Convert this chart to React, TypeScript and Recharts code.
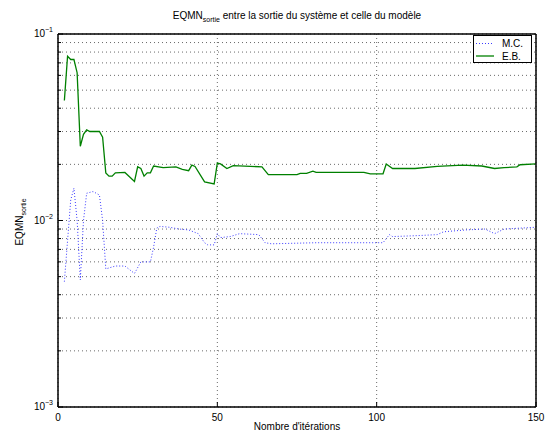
import { CartesianGrid, Legend, Line, LineChart, XAxis, YAxis } from "recharts"

// iterations and EQMN values
const mcIter = [2, 4, 5, 6, 7, 8, 9, 11, 13, 14, 15, 18, 21, 24, 26, 29, 30, 31, 32, 35, 38, 41, 44, 46, 47, 49, 50, 51, 54, 57, 63, 65, 67, 81, 102, 104, 105, 113, 119, 121, 128, 134, 137, 140, 150]
const mcVal = [0.0047, 0.0129, 0.0149, 0.01, 0.0048, 0.01, 0.014, 0.0143, 0.0137, 0.01, 0.0055, 0.0057, 0.0057, 0.0052, 0.006, 0.006, 0.0072, 0.0091, 0.0093, 0.0092, 0.009, 0.0089, 0.0085, 0.0076, 0.0074, 0.0074, 0.0085, 0.0081, 0.0082, 0.0085, 0.0084, 0.0076, 0.0075, 0.0076, 0.0076, 0.0084, 0.0082, 0.0083, 0.0084, 0.0087, 0.0089, 0.009, 0.0085, 0.009, 0.0092]

const ebIter = [2, 3, 4, 5, 6, 7, 8, 9, 10, 13, 14, 15, 16, 17, 18, 21, 24, 25, 26, 27, 28, 29, 30, 33, 37, 39, 41, 42, 43, 46, 49, 50, 51, 53, 55, 64, 66, 75, 76, 78, 80, 81, 96, 98, 102, 103, 105, 112, 119, 127, 133, 137, 140, 144, 145, 150]
const ebVal = [0.044, 0.076, 0.073, 0.073, 0.062, 0.025, 0.029, 0.0306, 0.03, 0.03, 0.028, 0.018, 0.0173, 0.0173, 0.018, 0.0181, 0.0162, 0.0194, 0.019, 0.0173, 0.018, 0.018, 0.0196, 0.0192, 0.0194, 0.0188, 0.0185, 0.0198, 0.0195, 0.0161, 0.0157, 0.0203, 0.0201, 0.019, 0.0197, 0.0194, 0.0176, 0.0176, 0.0179, 0.0179, 0.0184, 0.0181, 0.0181, 0.0178, 0.0178, 0.0201, 0.019, 0.019, 0.0195, 0.0198, 0.0196, 0.019, 0.0192, 0.0194, 0.0199, 0.0201]

const legendOrder = ["M.C.", "E.B."]
const xTicks = [0, 50, 100, 150]
const yTicks = [
  0.001, 0.002, 0.003, 0.004, 0.005, 0.006, 0.007, 0.008, 0.009,
  0.01, 0.02, 0.03, 0.04, 0.05, 0.06, 0.07, 0.08, 0.09, 0.1,
]

const mcData = mcIter.map((it, i) => ({ it, v: mcVal[i] }))
const ebData = ebIter.map((it, i) => ({ it, v: ebVal[i] }))

const font = '"Liberation Sans", Arial, Helvetica, sans-serif'
const mcColor = "#3b3bff"
const ebColor = "#008000"

const isMajor = (v: number) => Math.abs(Math.log10(v) - Math.round(Math.log10(v))) < 1e-6

function LeftTick(props: any) {
  const { x, y, payload } = props
  const v = payload.value
  const major = isMajor(v)
  return (
    <g>
      <line x1={x} x2={x + (major ? 5 : 3)} y1={y} y2={y} stroke="#000" />
      {major && (
        <text x={x - 5} y={y + 3} textAnchor="end" fontSize={10} fontFamily={font} fill="#000">
          10
          <tspan dy={-5} fontSize={7}>
            {"\u2212" + -Math.round(Math.log10(v))}
          </tspan>
        </text>
      )}
    </g>
  )
}

function RightTick(props: any) {
  const { x, y, payload } = props
  const major = isMajor(payload.value)
  return <line x1={x} x2={x - (major ? 5 : 3)} y1={y} y2={y} stroke="#000" />
}

function BottomTick(props: any) {
  const { x, y, payload } = props
  return (
    <g>
      <line x1={x} x2={x} y1={y} y2={y - 5} stroke="#000" />
      <text x={x} y={y + 14} textAnchor="middle" fontSize={10} fontFamily={font} fill="#000">
        {payload.value}
      </text>
    </g>
  )
}

function TopTick(props: any) {
  const { x, y } = props
  return <line x1={x} x2={x} y1={y} y2={y + 5} stroke="#000" />
}

function LegendBox(props: any) {
  const items = [...(props.payload || [])].sort(
    (a: any, b: any) => legendOrder.indexOf(a.value) - legendOrder.indexOf(b.value)
  )
  return (
    <svg width={59} height={28} style={{ display: "block" }}>
      <rect x={0.5} y={0.5} width={58} height={27} fill="#fff" stroke="#000" />
      {items.map((e: any, i: number) => {
        const cy = 8.5 + i * 12.5
        return (
          <g key={e.value}>
            <line
              x1={3}
              x2={21}
              y1={cy}
              y2={cy}
              stroke={e.color}
              strokeWidth={e.value === "M.C." ? 1 : 1.3}
              strokeDasharray={e.value === "M.C." ? "1 2" : undefined}
            />
            <text x={29} y={cy + 3.5} fontSize={10} fontFamily={font} fill="#000">
              {e.value}
            </text>
          </g>
        )
      })}
    </svg>
  )
}

export default function App() {
  return (
    <div style={{ position: "absolute", left: 0, top: 0, width: 555, height: 438, background: "#fff" }}>
      <LineChart width={555} height={438} margin={{ top: 0, right: 0, bottom: 0, left: 0 }}>
        <CartesianGrid stroke="#444" strokeDasharray="1 3" strokeWidth={0.8} />
        <XAxis
          dataKey="it"
          type="number"
          domain={[0, 150]}
          ticks={xTicks}
          allowDataOverflow
          height={31}
          tickSize={0}
          tickMargin={0}
          tickLine={false}
          axisLine={{ stroke: "#000", strokeWidth: 1.5 }}
          tick={<BottomTick />}
        />
        <XAxis
          xAxisId="top"
          orientation="top"
          type="number"
          domain={[0, 150]}
          ticks={[50, 100]}
          height={34}
          tickSize={0}
          tickMargin={0}
          tickLine={false}
          axisLine={{ stroke: "#000", strokeWidth: 1.5 }}
          tick={<TopTick />}
        />
        <YAxis
          type="number"
          scale="log"
          domain={[0.001, 0.1]}
          ticks={yTicks}
          allowDataOverflow
          width={58}
          tickSize={0}
          tickMargin={0}
          tickLine={false}
          interval={0}
          axisLine={{ stroke: "#000", strokeWidth: 1.5 }}
          tick={<LeftTick />}
        />
        <YAxis
          yAxisId="right"
          orientation="right"
          type="number"
          scale="log"
          domain={[0.001, 0.1]}
          ticks={yTicks}
          width={19}
          tickSize={0}
          tickMargin={0}
          tickLine={false}
          interval={0}
          axisLine={{ stroke: "#000", strokeWidth: 1.5 }}
          tick={<RightTick />}
        />
        <Legend
          layout="horizontal"
          verticalAlign="middle"
          align="center"
          width={59}
          height={28}
          wrapperStyle={{ position: "absolute", left: 473, top: 35, width: 59, height: 28 }}
          content={<LegendBox />}
        />
        <Line
          data={mcData}
          dataKey="v"
          name="M.C."
          stroke={mcColor}
          strokeWidth={1}
          strokeDasharray="1 2"
          dot={false}
          isAnimationActive={false}
        />
        <Line
          data={ebData}
          dataKey="v"
          name="E.B."
          stroke={ebColor}
          strokeWidth={1.3}
          dot={false}
          isAnimationActive={false}
        />
      </LineChart>
      <svg
        width={555}
        height={438}
        style={{ position: "absolute", left: 0, top: 0, pointerEvents: "none" }}
        fontFamily={font}
        fill="#000"
      >
        <text x={297} y={19} textAnchor="middle" fontSize={10}>
          EQMN
          <tspan dy={3} fontSize={7}>sortie</tspan>
          <tspan dy={-3}> entre la sortie du système et celle du modèle</tspan>
        </text>
        <text x={297} y={430} textAnchor="middle" fontSize={10}>
          Nombre d'itérations
        </text>
        <text x={23} y={222} textAnchor="middle" fontSize={10} transform="rotate(-90 23 222)">
          EQMN
          <tspan dy={3} fontSize={7}>sortie</tspan>
        </text>
      </svg>
    </div>
  )
}
